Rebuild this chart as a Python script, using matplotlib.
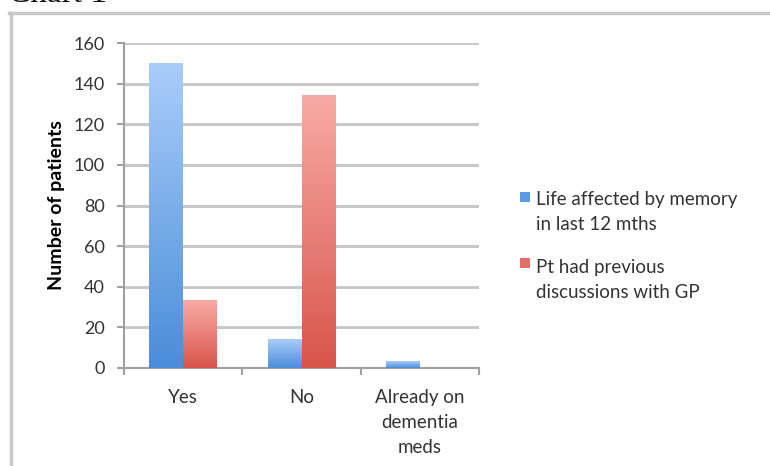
import numpy as np
import matplotlib
matplotlib.use("Agg")
import matplotlib.pyplot as plt
from matplotlib.lines import Line2D
from matplotlib.patches import Rectangle
from matplotlib.colors import LinearSegmentedColormap

categories = ["Yes", "No", "Already on\ndementia\nmeds"]
life_affected = [150, 14, 3]
gp_discussions = [33, 134, 0]
series_names = ["Life affected by memory\nin last 12 mths",
                "Pt had previous\ndiscussions with GP"]
series_colors = ["#5a9ae0", "#e2706a"]

plt.rcParams["font.family"] = ["Lato", "DejaVu Sans"]

blue_grad = LinearSegmentedColormap.from_list("blue_grad", ["#4a8dd8", "#a9cdfa"])
red_grad = LinearSegmentedColormap.from_list("red_grad", ["#d8554a", "#f9aaa6"])

W, H = 770, 466
fig = plt.figure(figsize=(W / 100, H / 100), dpi=100)
ax = fig.add_axes([124 / W, 1 - 368 / H, 355 / W, 325 / H])

x = np.arange(len(categories))
width = 0.286


def gradient_bars(xpos, heights, cmap):
    # plain bars for geometry, then a vertical gradient painted into each one
    grad = np.linspace(0, 1, 256).reshape(-1, 1)
    bars = ax.bar(xpos, heights, width, color="none", edgecolor="none")
    for b in bars:
        h = b.get_height()
        if h <= 0:
            continue
        x0 = b.get_x()
        ax.imshow(grad, cmap=cmap, origin="lower", aspect="auto",
                  extent=(x0, x0 + b.get_width(), 0, h), zorder=3)
    return bars


gradient_bars(x - width / 2, life_affected, blue_grad)
gradient_bars(x + width / 2, gp_discussions, red_grad)

ax.set_xlim(-0.5, len(categories) - 0.5)
ax.set_ylim(0, 160)
ax.set_yticks(range(0, 161, 20))
ax.set_xticks(x)
ax.set_xticklabels(categories, fontsize=13.5, color="#333333", linespacing=1.56)
ax.set_xticks(np.arange(-0.5, len(categories), 1), minor=True)
ax.tick_params(axis="x", which="major", length=0, pad=15)
ax.tick_params(axis="x", which="minor", length=5, width=1.5, color="#a0a0a0", direction="out")
ax.tick_params(axis="y", length=5, width=1.5, color="#a0a0a0", direction="out",
               labelsize=13, labelcolor="#333333", pad=9)

ax.grid(axis="y", color="#c8c8c8", linewidth=2.2, zorder=0)
ax.set_axisbelow(True)
for side in ["top", "right"]:
    ax.spines[side].set_visible(False)
for side in ["left", "bottom"]:
    ax.spines[side].set_color("#a0a0a0")
    ax.spines[side].set_linewidth(1.5)

ax.set_ylabel("Number of patients", fontsize=14, fontweight="bold", labelpad=6)

# legend to the right of the plot: (square centre, last-line baseline) in pixels
legend_rows = [(197, 230), (263, 298)]
for (sq_y, base_y), name, col in zip(legend_rows, series_names, series_colors):
    fig.add_artist(Rectangle((520 / W, 1 - (sq_y + 5) / H), 10 / W, 10 / H,
                             transform=fig.transFigure, facecolor=col, edgecolor="none"))
    fig.text(536 / W, 1 - base_y / H, name, fontsize=13.5, color="#333333",
             va="baseline", ha="left", linespacing=1.55)

# outer chart border and heading
fig.add_artist(Line2D([10.5 / W, 10.5 / W], [0, 1 - 13 / H],
                      transform=fig.transFigure, color="#c8c8c8", linewidth=2.5))
fig.add_artist(Line2D([9 / W, 1], [1 - 13 / H, 1 - 13 / H],
                      transform=fig.transFigure, color="#c8c8c8", linewidth=2.5))
fig.text(8 / W, 1 - 2 / H, "Chart 1", family="Liberation Serif", fontsize=24,
         va="baseline", ha="left", color="#111111")

fig.savefig("out.png", dpi=100)
